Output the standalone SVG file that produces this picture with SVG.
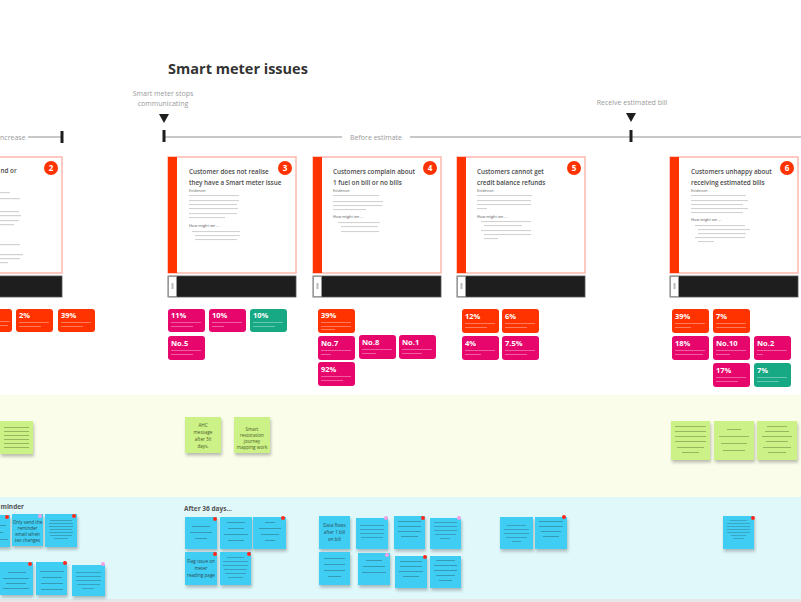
<svg xmlns="http://www.w3.org/2000/svg" width="801" height="602" viewBox="0 0 801 602">
<defs>
<style>
.title{font-family:"Open Sans","Liberation Sans",sans-serif;font-weight:700;fill:#333}
.lbl{font-family:"Open Sans","Liberation Sans",sans-serif;font-size:7px;fill:#9a9a9a}
.ct{font-family:"Open Sans","Liberation Sans",sans-serif;font-size:6.3px;font-weight:600;fill:#4a4a4a}
.cs{font-family:"Open Sans","Liberation Sans",sans-serif;font-size:3.8px;font-weight:600;fill:#888}
.card{fill:#fff;stroke:#ffb8ad;stroke-width:1.5}
.strip{fill:#ff3300}
.bar{fill:#1e1e1e;stroke:#555;stroke-width:0.8}
.barbox{fill:#fff;stroke:#999;stroke-width:0.8}
.tx{fill:#d2d2d2}
.badge{fill:#ff3300}
.bn{font-family:"Open Sans","Liberation Sans",sans-serif;font-size:8px;font-weight:700;fill:#fff}
.or{fill:#ff3300}
.pk{fill:#e6066c}
.gr{fill:#17a884}
.tl{font-family:"Open Sans","Liberation Sans",sans-serif;font-size:7.5px;font-weight:700;fill:#fff}
.tline{fill:#fff;opacity:0.35}
.sg{fill:#ccf186}
.sb{fill:#3fcdf4}
.st{font-family:"Open Sans","Liberation Sans",sans-serif;font-size:4.6px;fill:#2a4a50}
.stg{font-family:"Open Sans","Liberation Sans",sans-serif;font-size:4.6px;fill:#4a5a2a}
.sl{fill:#2a5a66;opacity:0.55}
.slg{fill:#5a6a30;opacity:0.55}
.dr{fill:#ff2a1a}
.dp{fill:#f4a0e0}
.sec{font-family:"Open Sans","Liberation Sans",sans-serif;font-size:6.5px;font-weight:700;fill:#555}
</style>
<filter id="sh" x="-20%" y="-20%" width="140%" height="150%">
<feDropShadow dx="1" dy="2.5" stdDeviation="1.5" flood-color="#000" flood-opacity="0.25"/>
</filter>
</defs>
<rect x="0" y="0" width="801" height="602" fill="#fff"/>

<g id="bands">
<rect x="0" y="395" width="801" height="102" fill="#f9fde9"/>
<rect x="0" y="497" width="801" height="102" fill="#e0f8fa"/>
<rect x="0" y="599" width="801" height="3" fill="#e4e8e8"/>
</g>

<g id="title"><text class="title" x="238" y="74" font-size="14.5" text-anchor="middle">Smart meter issues</text></g>

<g id="connectors">
<line x1="28" y1="137" x2="62" y2="137" stroke="#c8c8c8" stroke-width="2"/>
<line x1="164" y1="137" x2="342" y2="137" stroke="#c8c8c8" stroke-width="2"/>
<line x1="410" y1="137" x2="801" y2="137" stroke="#c8c8c8" stroke-width="2"/>
<rect x="60.5" y="131" width="3" height="12" fill="#1e1e1e"/>
<rect x="162.5" y="130" width="3" height="12" fill="#1e1e1e"/>
<rect x="629.5" y="130" width="3" height="12" fill="#1e1e1e"/>
<polygon points="159,114 169,114 164,123" fill="#1e1e1e"/>
<polygon points="626,113 636,113 631,122" fill="#1e1e1e"/>
</g>
<g id="timeline-labels">
<text class="lbl" x="0" y="139.5">ncrease</text>
<text class="lbl" x="376" y="139.5" text-anchor="middle">Before estimate</text>
<text class="lbl" x="163" y="96" text-anchor="middle">Smart meter stops</text>
<text class="lbl" x="163" y="106" text-anchor="middle">communicating</text>
<text class="lbl" x="632" y="105" text-anchor="middle">Receive estimated bill</text>
</g>

<g id="card2">
<rect class="card" x="-66" y="157" width="128" height="116"/>
<rect class="bar" x="-66" y="276" width="128" height="21"/>
<circle class="badge" cx="51" cy="168" r="7"/><text class="bn" x="51" y="171" text-anchor="middle">2</text>
<text class="ct" x="0.5" y="173">nd or</text>
<rect class="tx" x="0" y="192" width="10" height="1.2"/>
<rect class="tx" x="0" y="198" width="20" height="1.2"/>
<rect class="tx" x="0" y="211" width="19" height="1.2"/>
<rect class="tx" x="0" y="215" width="21" height="1.2"/>
<rect class="tx" x="0" y="220" width="19" height="1.2"/>
<rect class="tx" x="0" y="224" width="14" height="1.2"/>
<rect class="tx" x="0" y="244" width="20" height="1.2"/>
<rect class="tx" x="0" y="254" width="23" height="1.2"/>
<rect class="tx" x="0" y="258" width="20" height="1.2"/>
<rect class="tx" x="0" y="262" width="8" height="1.2"/>
</g>

<g id="card3">
<rect class="card" x="168" y="157" width="128" height="116"/>
<rect class="strip" x="168" y="157" width="9" height="116"/>
<rect class="bar" x="168" y="276" width="128" height="21"/>
<rect class="barbox" x="168.5" y="276.5" width="8" height="20"/><rect x="171.5" y="283" width="2" height="6" fill="#bbb"/>
<circle class="badge" cx="285" cy="168" r="7"/><text class="bn" x="285" y="171" text-anchor="middle">3</text>
<text class="ct" x="189" y="174">Customer does not realise</text>
<text class="ct" x="189" y="185">they have a Smart meter issue</text>
<text class="cs" x="189" y="192">Evidence:</text>
<rect class="tx" x="189" y="195" width="50" height="1.1"/>
<rect class="tx" x="189" y="200" width="50" height="1.1"/>
<rect class="tx" x="189" y="204" width="48" height="1.1"/>
<rect class="tx" x="189" y="208" width="49" height="1.1"/>
<rect class="tx" x="189" y="213" width="48" height="1.1"/>
<rect class="tx" x="189" y="217" width="36" height="1.1"/>
<text class="cs" x="189" y="227">How might we ...</text>
<rect class="tx" x="192" y="231" width="48" height="1.1"/>
<rect class="tx" x="195" y="235" width="45" height="1.1"/>
<rect class="tx" x="195" y="239" width="42" height="1.1"/>
</g>

<g id="card4">
<rect class="card" x="313" y="157" width="128" height="116"/>
<rect class="strip" x="313" y="157" width="9" height="116"/>
<rect class="bar" x="313" y="276" width="128" height="21"/>
<rect class="barbox" x="313.5" y="276.5" width="8" height="20"/><rect x="316.5" y="283" width="2" height="6" fill="#bbb"/>
<circle class="badge" cx="430" cy="168" r="7"/><text class="bn" x="430" y="171" text-anchor="middle">4</text>
<text class="ct" x="333" y="174">Customers complain about</text>
<text class="ct" x="333" y="185">1 fuel on bill or no bills</text>
<text class="cs" x="333" y="192">Evidence:</text>
<rect class="tx" x="333" y="195" width="46" height="1.1"/>
<rect class="tx" x="333" y="201" width="50" height="1.1"/>
<rect class="tx" x="333" y="205" width="49" height="1.1"/>
<rect class="tx" x="333" y="209" width="33" height="1.1"/>
<text class="cs" x="333" y="218">How might we ...</text>
<rect class="tx" x="338" y="222" width="42" height="1.1"/>
<rect class="tx" x="341" y="226" width="37" height="1.1"/>
<rect class="tx" x="341" y="231" width="38" height="1.1"/>
</g>

<g id="card5">
<rect class="card" x="457" y="157" width="128" height="116"/>
<rect class="strip" x="457" y="157" width="9" height="116"/>
<rect class="bar" x="457" y="276" width="128" height="21"/>
<rect class="barbox" x="457.5" y="276.5" width="8" height="20"/><rect x="460.5" y="283" width="2" height="6" fill="#bbb"/>
<circle class="badge" cx="574" cy="168" r="7"/><text class="bn" x="574" y="171" text-anchor="middle">5</text>
<text class="ct" x="477" y="174">Customers cannot get</text>
<text class="ct" x="477" y="185">credit balance refunds</text>
<text class="cs" x="477" y="192">Evidence:</text>
<rect class="tx" x="477" y="195" width="55" height="1.1"/>
<rect class="tx" x="477" y="200" width="54" height="1.1"/>
<rect class="tx" x="477" y="204" width="54" height="1.1"/>
<rect class="tx" x="477" y="208" width="10" height="1.1"/>
<text class="cs" x="477" y="218">How might we ...</text>
<rect class="tx" x="481" y="221" width="50" height="1.1"/>
<rect class="tx" x="484" y="225" width="38" height="1.1"/>
<rect class="tx" x="481" y="230" width="50" height="1.1"/>
<rect class="tx" x="484" y="234" width="47" height="1.1"/>
<rect class="tx" x="484" y="238" width="14" height="1.1"/>
</g>

<g id="card6">
<rect class="card" x="670" y="157" width="128" height="116"/>
<rect class="strip" x="670" y="157" width="9" height="116"/>
<rect class="bar" x="670" y="276" width="128" height="21"/>
<rect class="barbox" x="670.5" y="276.5" width="8" height="20"/><rect x="673.5" y="283" width="2" height="6" fill="#bbb"/>
<circle class="badge" cx="787" cy="168" r="7"/><text class="bn" x="787" y="171" text-anchor="middle">6</text>
<text class="ct" x="691" y="174">Customers unhappy about</text>
<text class="ct" x="691" y="185">receiving estimated bills</text>
<text class="cs" x="691" y="192">Evidence:</text>
<rect class="tx" x="691" y="195" width="55" height="1.1"/>
<rect class="tx" x="691" y="200" width="57" height="1.1"/>
<rect class="tx" x="691" y="204" width="52" height="1.1"/>
<rect class="tx" x="691" y="208" width="57" height="1.1"/>
<rect class="tx" x="691" y="212" width="52" height="1.1"/>
<text class="cs" x="691" y="221">How might we ...</text>
<rect class="tx" x="695" y="225" width="50" height="1.1"/>
<rect class="tx" x="698" y="229" width="52" height="1.1"/>
<rect class="tx" x="698" y="233" width="48" height="1.1"/>
<rect class="tx" x="695" y="237" width="50" height="1.1"/>
<rect class="tx" x="698" y="241" width="16" height="1.1"/>
</g>

<g id="tags">
<rect class="or" x="-25" y="309" width="37" height="23" rx="3"/>
<rect class="tline" x="-2" y="321" width="12" height="1"/><rect class="tline" x="-2" y="325" width="10" height="1"/>
<rect class="or" x="16" y="309" width="37" height="23" rx="3"/><text class="tl" x="19" y="318">2%</text>
<rect class="tline" x="19" y="322" width="30" height="1"/><rect class="tline" x="19" y="326" width="22" height="1"/>
<rect class="or" x="58" y="309" width="37" height="23" rx="3"/><text class="tl" x="61" y="318">39%</text>
<rect class="tline" x="61" y="322" width="30" height="1"/><rect class="tline" x="61" y="326" width="22" height="1"/>

<rect class="pk" x="168" y="309" width="37" height="23" rx="3"/><text class="tl" x="171" y="318">11%</text>
<rect class="tline" x="171" y="322" width="30" height="1"/><rect class="tline" x="171" y="326" width="22" height="1"/>
<rect class="pk" x="209" y="309" width="37" height="23" rx="3"/><text class="tl" x="212" y="318">10%</text>
<rect class="tline" x="212" y="322" width="30" height="1"/><rect class="tline" x="212" y="326" width="12" height="1"/>
<rect class="gr" x="250" y="309" width="37" height="23" rx="3"/><text class="tl" x="253" y="318">10%</text>
<rect class="tline" x="253" y="322" width="30" height="1"/><rect class="tline" x="253" y="326" width="22" height="1"/>
<rect class="pk" x="168" y="336" width="37" height="24" rx="3"/><text class="tl" x="171" y="346">No.5</text>
<rect class="tline" x="171" y="350" width="30" height="1"/><rect class="tline" x="171" y="354" width="22" height="1"/>

<rect class="or" x="318" y="309" width="37" height="24" rx="3"/><text class="tl" x="321" y="318">39%</text>
<rect class="tline" x="321" y="322" width="30" height="1"/><rect class="tline" x="321" y="326" width="30" height="1"/><rect class="tline" x="321" y="329" width="14" height="1"/>
<rect class="pk" x="318" y="336" width="37" height="24" rx="3"/><text class="tl" x="321" y="346">No.7</text>
<rect class="tline" x="321" y="350" width="30" height="1"/><rect class="tline" x="321" y="354" width="10" height="1"/>
<rect class="pk" x="359" y="335" width="37" height="24" rx="3"/><text class="tl" x="362" y="345">No.8</text>
<rect class="tline" x="362" y="349" width="30" height="1"/><rect class="tline" x="362" y="353" width="14" height="1"/>
<rect class="pk" x="399" y="335" width="37" height="24" rx="3"/><text class="tl" x="402" y="345">No.1</text>
<rect class="tline" x="402" y="349" width="30" height="1"/><rect class="tline" x="402" y="353" width="20" height="1"/>
<rect class="pk" x="318" y="362" width="37" height="24" rx="3"/><text class="tl" x="321" y="372">92%</text>
<rect class="tline" x="321" y="376" width="30" height="1"/><rect class="tline" x="321" y="380" width="22" height="1"/>

<rect class="or" x="462" y="309" width="37" height="24" rx="3"/><text class="tl" x="465" y="319">12%</text>
<rect class="tline" x="465" y="323" width="30" height="1"/><rect class="tline" x="465" y="327" width="22" height="1"/>
<rect class="or" x="502" y="309" width="37" height="24" rx="3"/><text class="tl" x="505" y="319">6%</text>
<rect class="tline" x="505" y="323" width="30" height="1"/><rect class="tline" x="505" y="327" width="22" height="1"/>
<rect class="pk" x="462" y="336" width="37" height="24" rx="3"/><text class="tl" x="465" y="346">4%</text>
<rect class="tline" x="465" y="350" width="30" height="1"/><rect class="tline" x="465" y="354" width="16" height="1"/>
<rect class="pk" x="502" y="336" width="37" height="24" rx="3"/><text class="tl" x="505" y="346">7.5%</text>
<rect class="tline" x="505" y="350" width="30" height="1"/><rect class="tline" x="505" y="354" width="22" height="1"/>

<rect class="or" x="672" y="309" width="37" height="24" rx="3"/><text class="tl" x="675" y="319">39%</text>
<rect class="tline" x="675" y="323" width="30" height="1"/><rect class="tline" x="675" y="327" width="16" height="1"/>
<rect class="or" x="713" y="309" width="37" height="24" rx="3"/><text class="tl" x="716" y="319">7%</text>
<rect class="tline" x="716" y="323" width="30" height="1"/><rect class="tline" x="716" y="327" width="30" height="1"/>
<rect class="pk" x="672" y="336" width="37" height="24" rx="3"/><text class="tl" x="675" y="346">18%</text>
<rect class="tline" x="675" y="350" width="30" height="1"/><rect class="tline" x="675" y="354" width="28" height="1"/>
<rect class="pk" x="713" y="336" width="37" height="24" rx="3"/><text class="tl" x="716" y="346">No.10</text>
<rect class="tline" x="716" y="350" width="30" height="1"/><rect class="tline" x="716" y="354" width="14" height="1"/>
<rect class="pk" x="754" y="336" width="37" height="24" rx="3"/><text class="tl" x="757" y="346">No.2</text>
<rect class="tline" x="757" y="350" width="30" height="1"/><rect class="tline" x="757" y="354" width="6" height="1"/>
<rect class="pk" x="713" y="363" width="37" height="24" rx="3"/><text class="tl" x="716" y="373">17%</text>
<rect class="tline" x="716" y="377" width="30" height="1"/><rect class="tline" x="716" y="381" width="22" height="1"/>
<rect class="gr" x="754" y="363" width="37" height="24" rx="3"/><text class="tl" x="757" y="373">7%</text>
<rect class="tline" x="757" y="377" width="30" height="1"/><rect class="tline" x="757" y="381" width="22" height="1"/>
</g>

<g id="green-stickies">
<rect class="sg" x="0" y="421" width="33" height="33" filter="url(#sh)"/>
<rect class="slg" x="4" y="427" width="25" height="0.8"/><rect class="slg" x="4" y="431" width="25" height="0.8"/><rect class="slg" x="4" y="435" width="25" height="0.8"/><rect class="slg" x="4" y="439" width="25" height="0.8"/><rect class="slg" x="4" y="443" width="25" height="0.8"/><rect class="slg" x="4" y="447" width="25" height="0.8"/>
<rect class="sg" x="185" y="417" width="36" height="36" filter="url(#sh)"/>
<text class="stg" x="203" y="427" text-anchor="middle">AHC</text>
<text class="stg" x="203" y="434" text-anchor="middle">message</text>
<text class="stg" x="203" y="441" text-anchor="middle">after 36</text>
<text class="stg" x="203" y="448" text-anchor="middle">days.</text>
<rect class="sg" x="234" y="417" width="36" height="36" filter="url(#sh)"/>
<text class="stg" x="252" y="431" text-anchor="middle">Smart</text>
<text class="stg" x="252" y="437" text-anchor="middle">restoration</text>
<text class="stg" x="252" y="443" text-anchor="middle">journey</text>
<text class="stg" x="252" y="449" text-anchor="middle">mapping work</text>
<rect class="sg" x="671" y="421" width="39" height="39" filter="url(#sh)"/>
<rect class="slg" x="675" y="426" width="31" height="0.8"/><rect class="slg" x="675" y="431" width="31" height="0.8"/><rect class="slg" x="675" y="436" width="31" height="0.8"/><rect class="slg" x="675" y="441" width="31" height="0.8"/><rect class="slg" x="677" y="447" width="27" height="0.8"/><rect class="slg" x="682" y="452" width="17" height="0.8"/>
<rect class="sg" x="714" y="421" width="40" height="39" filter="url(#sh)"/>
<rect class="slg" x="727" y="429" width="14" height="0.8"/><rect class="slg" x="719" y="436" width="30" height="0.8"/><rect class="slg" x="721" y="443" width="26" height="0.8"/><rect class="slg" x="723" y="450" width="22" height="0.8"/>
<rect class="sg" x="757" y="421" width="40" height="39" filter="url(#sh)"/>
<rect class="slg" x="767" y="426" width="20" height="0.8"/><rect class="slg" x="765" y="431" width="24" height="0.8"/><rect class="slg" x="762" y="436" width="30" height="0.8"/><rect class="slg" x="766" y="441" width="22" height="0.8"/><rect class="slg" x="763" y="447" width="28" height="0.8"/><rect class="slg" x="768" y="452" width="18" height="0.8"/>
</g>

<g id="section-labels">
<text class="sec" x="0.5" y="509">minder</text>
<text class="sec" x="184" y="511">After 36 days...</text>
</g>

<g id="blue-stickies">
<rect class="sb" x="-20" y="515" width="30" height="32" filter="url(#sh)"/><circle class="dr" cx="7" cy="517" r="2"/>
<rect class="sl" x="0" y="525" width="6" height="0.8"/><rect class="sl" x="0" y="532" width="3" height="0.8"/><rect class="sl" x="0" y="539" width="8" height="0.8"/>
<rect class="sb" x="12" y="514" width="31" height="32" filter="url(#sh)"/><circle class="dp" cx="40" cy="516" r="2"/>
<text class="st" x="27.5" y="524" text-anchor="middle">Only send the</text>
<text class="st" x="27.5" y="530" text-anchor="middle">reminder</text>
<text class="st" x="27.5" y="536" text-anchor="middle">email when</text>
<text class="st" x="27.5" y="542" text-anchor="middle">tex changes</text>
<rect class="sb" x="45" y="514" width="32" height="33" filter="url(#sh)"/><circle class="dr" cx="74" cy="516" r="2"/>
<rect class="sl" x="50" y="520" width="22" height="0.7"/><rect class="sl" x="49" y="523" width="24" height="0.7"/><rect class="sl" x="49" y="526" width="24" height="0.7"/><rect class="sl" x="50" y="529" width="22" height="0.7"/><rect class="sl" x="49" y="532" width="24" height="0.7"/><rect class="sl" x="50" y="535" width="22" height="0.7"/><rect class="sl" x="54" y="538" width="14" height="0.7"/>

<rect class="sb" x="0" y="562" width="33" height="33" filter="url(#sh)"/><circle class="dr" cx="30" cy="564" r="2"/>
<rect class="sl" x="8" y="572" width="18" height="0.8"/><rect class="sl" x="3" y="578" width="26" height="0.8"/><rect class="sl" x="6" y="583" width="20" height="0.8"/><rect class="sl" x="3" y="588" width="26" height="0.8"/>
<rect class="sb" x="36" y="562" width="31" height="33" filter="url(#sh)"/><circle class="dr" cx="65" cy="563" r="2"/>
<rect class="sl" x="40" y="571" width="24" height="0.8"/><rect class="sl" x="42" y="577" width="20" height="0.8"/><rect class="sl" x="41" y="583" width="22" height="0.8"/><rect class="sl" x="41" y="589" width="22" height="0.8"/>
<rect class="sb" x="72" y="565" width="33" height="31" filter="url(#sh)"/><circle class="dp" cx="103" cy="564" r="2"/>
<rect class="sl" x="76" y="572" width="25" height="0.7"/><rect class="sl" x="76" y="576" width="25" height="0.7"/><rect class="sl" x="76" y="580" width="25" height="0.7"/><rect class="sl" x="77" y="584" width="23" height="0.7"/><rect class="sl" x="82" y="588" width="12" height="0.7"/>

<rect class="sb" x="185" y="517" width="32" height="32" filter="url(#sh)"/><circle class="dr" cx="215" cy="519" r="2"/>
<rect class="sl" x="192" y="526" width="18" height="0.8"/><rect class="sl" x="190" y="532" width="22" height="0.8"/><rect class="sl" x="195" y="538" width="12" height="0.8"/>
<rect class="sb" x="220" y="517" width="32" height="32" filter="url(#sh)"/>
<rect class="sl" x="227" y="522" width="18" height="0.8"/><rect class="sl" x="228" y="528" width="16" height="0.8"/><rect class="sl" x="224" y="534" width="24" height="0.8"/><rect class="sl" x="228" y="540" width="16" height="0.8"/>
<rect class="sb" x="253" y="517" width="33" height="32" filter="url(#sh)"/><circle class="dr" cx="283" cy="518" r="2"/>
<rect class="sl" x="265" y="522" width="10" height="0.8"/><rect class="sl" x="259" y="528" width="22" height="0.8"/><rect class="sl" x="261" y="534" width="18" height="0.8"/><rect class="sl" x="265" y="540" width="10" height="0.8"/>
<rect class="sb" x="185" y="552" width="32" height="33" filter="url(#sh)"/><circle class="dr" cx="215" cy="554" r="2"/>
<text class="st" x="201" y="563" text-anchor="middle">Flag issue on</text>
<text class="st" x="201" y="570" text-anchor="middle">meter</text>
<text class="st" x="201" y="577" text-anchor="middle">reading page</text>
<rect class="sb" x="220" y="552" width="31" height="33" filter="url(#sh)"/><circle class="dr" cx="249" cy="554" r="2"/>
<rect class="sl" x="227" y="557" width="17" height="0.7"/><rect class="sl" x="223" y="561" width="25" height="0.7"/><rect class="sl" x="223" y="565" width="25" height="0.7"/><rect class="sl" x="224" y="569" width="23" height="0.7"/><rect class="sl" x="225" y="573" width="21" height="0.7"/><rect class="sl" x="228" y="577" width="15" height="0.7"/>

<rect class="sb" x="319" y="516" width="31" height="33" filter="url(#sh)"/>
<text class="st" x="334.5" y="527" text-anchor="middle">Data flows</text>
<text class="st" x="334.5" y="534" text-anchor="middle">after 1 bill</text>
<text class="st" x="334.5" y="541" text-anchor="middle">on bill</text>
<rect class="sb" x="356" y="518" width="32" height="31" filter="url(#sh)"/><circle class="dp" cx="386" cy="518" r="2"/>
<rect class="sl" x="360" y="525" width="24" height="0.7"/><rect class="sl" x="360" y="529" width="24" height="0.7"/><rect class="sl" x="360" y="533" width="24" height="0.7"/><rect class="sl" x="361" y="537" width="22" height="0.7"/>
<rect class="sb" x="394" y="516" width="31" height="33" filter="url(#sh)"/><circle class="dr" cx="423" cy="518" r="2"/>
<rect class="sl" x="398" y="521" width="23" height="0.8"/><rect class="sl" x="398" y="526" width="23" height="0.8"/><rect class="sl" x="398" y="531" width="23" height="0.8"/><rect class="sl" x="401" y="536" width="17" height="0.8"/>
<rect class="sb" x="430" y="518" width="31" height="31" filter="url(#sh)"/><circle class="dp" cx="459" cy="518" r="2"/>
<rect class="sl" x="434" y="522" width="23" height="0.7"/><rect class="sl" x="434" y="526" width="23" height="0.7"/><rect class="sl" x="434" y="530" width="23" height="0.7"/><rect class="sl" x="435" y="534" width="21" height="0.7"/><rect class="sl" x="440" y="538" width="10" height="0.7"/>
<rect class="sb" x="319" y="552" width="31" height="33" filter="url(#sh)"/>
<rect class="sl" x="324" y="558" width="21" height="0.8"/><rect class="sl" x="324" y="564" width="21" height="0.8"/><rect class="sl" x="324" y="570" width="21" height="0.8"/><rect class="sl" x="328" y="576" width="13" height="0.8"/>
<rect class="sb" x="358" y="553" width="32" height="32" filter="url(#sh)"/><circle class="dp" cx="387" cy="555" r="2"/>
<rect class="sl" x="366" y="560" width="16" height="0.8"/><rect class="sl" x="363" y="566" width="22" height="0.8"/><rect class="sl" x="362" y="572" width="24" height="0.8"/>
<rect class="sb" x="395" y="556" width="32" height="32" filter="url(#sh)"/><circle class="dr" cx="425" cy="557" r="2"/>
<rect class="sl" x="400" y="561" width="22" height="0.8"/><rect class="sl" x="400" y="566" width="22" height="0.8"/><rect class="sl" x="399" y="571" width="24" height="0.8"/><rect class="sl" x="403" y="576" width="16" height="0.8"/>
<rect class="sb" x="430" y="556" width="31" height="32" filter="url(#sh)"/>
<rect class="sl" x="436" y="560" width="19" height="0.8"/><rect class="sl" x="434" y="565" width="23" height="0.8"/><rect class="sl" x="434" y="570" width="23" height="0.8"/><rect class="sl" x="436" y="575" width="19" height="0.8"/><rect class="sl" x="439" y="580" width="13" height="0.8"/>

<rect class="sb" x="500" y="517" width="33" height="32" filter="url(#sh)"/>
<rect class="sl" x="507" y="525" width="19" height="0.7"/><rect class="sl" x="504" y="529" width="25" height="0.7"/><rect class="sl" x="504" y="533" width="25" height="0.7"/><rect class="sl" x="506" y="537" width="21" height="0.7"/><rect class="sl" x="512" y="541" width="9" height="0.7"/>
<rect class="sb" x="535" y="517" width="32" height="32" filter="url(#sh)"/><circle class="dr" cx="564" cy="517" r="2"/>
<rect class="sl" x="539" y="521" width="24" height="0.8"/><rect class="sl" x="539" y="526" width="24" height="0.8"/><rect class="sl" x="541" y="531" width="20" height="0.8"/><rect class="sl" x="543" y="536" width="16" height="0.8"/>

<rect class="sb" x="723" y="516" width="31" height="33" filter="url(#sh)"/><circle class="dr" cx="753" cy="518" r="2"/>
<rect class="sl" x="730" y="520" width="17" height="0.6"/><rect class="sl" x="727" y="523" width="23" height="0.6"/><rect class="sl" x="727" y="526" width="23" height="0.6"/><rect class="sl" x="727" y="529" width="23" height="0.6"/><rect class="sl" x="727" y="532" width="23" height="0.6"/><rect class="sl" x="731" y="535" width="15" height="0.6"/><rect class="sl" x="733" y="538" width="11" height="0.6"/>
</g>
</svg>
